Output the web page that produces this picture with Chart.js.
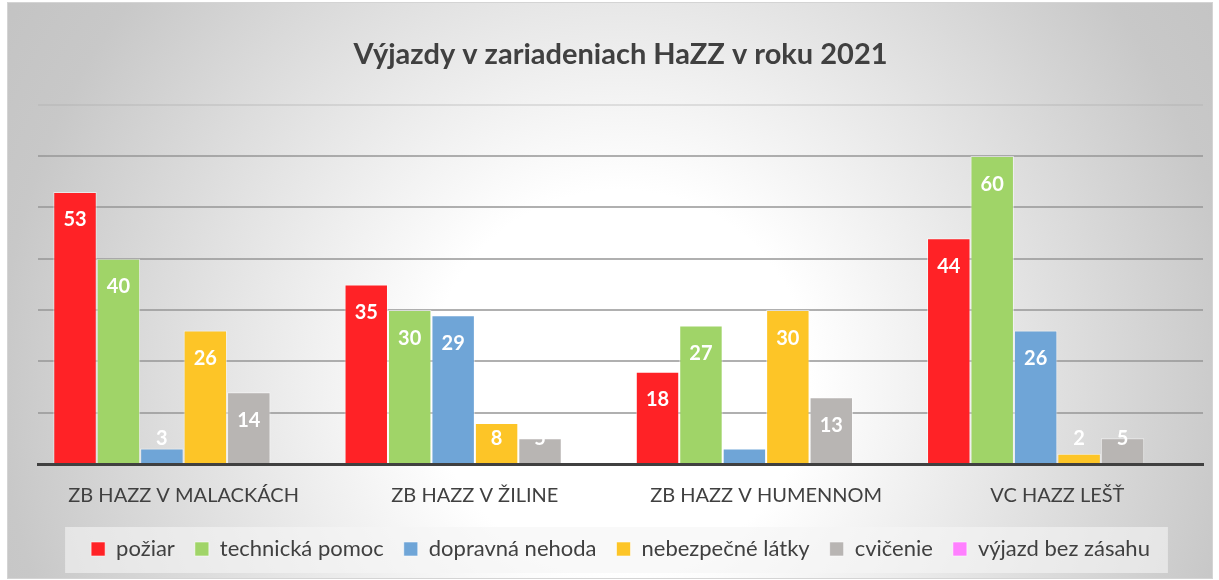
<!DOCTYPE html>
<html lang="sk">
<head>
<meta charset="utf-8">
<title>Výjazdy v zariadeniach HaZZ v roku 2021</title>
<script src="https://cdn.jsdelivr.net/npm/chart.js@4.4.1/dist/chart.umd.min.js"></script>
<style>
    html, body { margin: 0; padding: 0; background: #ffffff; }
    #frame {
        position: absolute;
        left: 7px; top: 2px;
        width: 1204px; height: 575px;
        border: 1px solid #d4d4d4;
        background: radial-gradient(circle 800px at 612px 377px, #ffffff 0px, #ffffff 190px, #c8c8c8 620px, #c0c0c0 800px);
    }
</style>
</head>
<body>
<div id="frame"><canvas id="chart"></canvas></div>
<script>
/* ── Données ───────────────────────────────────────────────── */

const categories = ["ZB HAZZ V MALACKÁCH", "ZB HAZZ V ŽILINE", "ZB HAZZ V HUMENNOM", "VC HAZZ LEŠŤ"];

const poziar           = [53, 35, 18, 44];
const technickaPomoc   = [40, 30, 27, 60];
const dopravnaNehoda   = [3, 29, 3, 26];
const nebezpecneLatky  = [26, 8, 30, 2];
const cvicenie         = [14, 5, 13, 5];
const vyjazdBezZasahu  = [0, 0, 0, 0];

const seriesNames  = ["požiar", "technická pomoc", "dopravná nehoda", "nebezpečné látky", "cvičenie", "výjazd bez zásahu"];
const seriesValues = [poziar, technickaPomoc, dopravnaNehoda, nebezpecneLatky, cvicenie, vyjazdBezZasahu];
const seriesColors = ["#ff2226", "#a0d468", "#6fa5d7", "#fdc527", "#b8b5b3", "#ff80ff"];

const Y_MAX = 70;

const FONT = "Lato, 'Open Sans', sans-serif";
const TEXT = "#404040";

/* ── Plugins ───────────────────────────────────────────────── */

// fond semi-transparent derrière la légende
const legendBox = {
    id: "legendBox",
    beforeDraw(chart) {
        const boxes = chart.legend && chart.legend.legendHitBoxes;
        if (!boxes || !boxes.length) return;
        const left   = Math.min(...boxes.map((b) => b.left)) - 26;
        const right  = Math.max(...boxes.map((b) => b.left + b.width)) + 18;
        const top    = Math.min(...boxes.map((b) => b.top)) - 11;
        const bottom = Math.max(...boxes.map((b) => b.top + b.height)) + 13;
        const ctx = chart.ctx;
        ctx.save();
        ctx.fillStyle = "rgba(245,245,245,0.6)";
        ctx.fillRect(left, top, right - left, bottom - top);
        ctx.restore();
    },
};

// étiquettes blanches à l'intérieur du haut des barres
const barLabels = {
    id: "barLabels",
    afterDatasetsDraw(chart) {
        const ctx = chart.ctx;
        ctx.save();
        ctx.font = `bold 20px ${FONT}`;
        ctx.fillStyle = "#ffffff";
        ctx.textAlign = "center";
        ctx.textBaseline = "middle";
        chart.data.datasets.forEach((ds, i) => {
            const meta = chart.getDatasetMeta(i);
            meta.data.forEach((bar, j) => {
                const v = ds.data[j];
                if (!v) return;
                const y = Math.min(bar.y + 28, bar.base - 24);
                ctx.fillText(String(v), bar.x, y);
            });
        });
        ctx.restore();
    },
};

/* ── Graphique ─────────────────────────────────────────────── */

new Chart(document.getElementById("chart"), {
    type: "bar",
    data: {
        labels: categories,
        datasets: seriesNames.map((name, i) => ({
            label: name,
            data: seriesValues[i],
            backgroundColor: seriesColors[i],
            borderColor: "rgba(255,255,255,0.55)",
            borderWidth: 1,
            barPercentage: 1,
            categoryPercentage: 0.895,
        })),
    },
    options: {
        responsive: true,
        maintainAspectRatio: false,
        animation: false,
        layout: { padding: { top: 24, right: 9, bottom: 8, left: 30 } },
        scales: {
            x: {
                grid: { display: false, drawTicks: true, tickLength: 10 },
                border: { display: true, color: "#404040", width: 3 },
                ticks: { color: TEXT, padding: 10, font: { size: 20, family: FONT } },
            },
            y: {
                min: 0,
                max: Y_MAX,
                ticks: { display: false, stepSize: 10 },
                border: { display: false },
                grid: {
                    drawTicks: false,
                    lineWidth: 2,
                    color: (c) => {
                        if (!c.tick || c.tick.value === 0) return "rgba(0,0,0,0)";
                        if (c.tick.value === Y_MAX) return "rgba(170,170,170,0.3)";
                        return "rgba(150,150,150,0.75)";
                    },
                },
            },
        },
        plugins: {
            title: {
                display: true,
                text: "Výjazdy v zariadeniach HaZZ v roku 2021",
                color: TEXT,
                font: { size: 29, weight: "bold", family: FONT },
                padding: { top: 10, bottom: 33 },
            },
            legend: {
                position: "bottom",
                labels: {
                    boxWidth: 14,
                    boxHeight: 14,
                    padding: 20,
                    color: TEXT,
                    font: { size: 22, family: FONT },
                },
            },
            tooltip: { enabled: false },
        },
    },
    plugins: [legendBox, barLabels],
});
</script>
</body>
</html>
